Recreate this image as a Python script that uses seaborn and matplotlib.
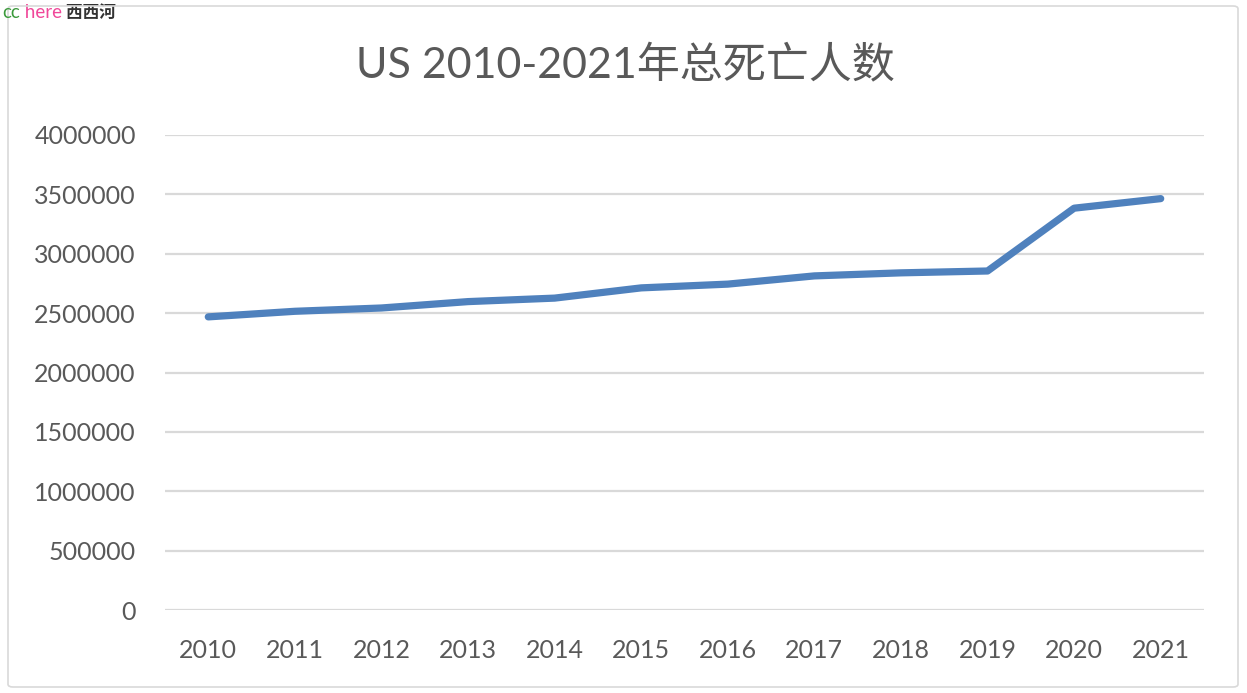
import matplotlib
matplotlib.use("Agg")
import matplotlib.pyplot as plt
import seaborn as sns
import pandas as pd
from matplotlib.patches import FancyBboxPatch

years = [2010, 2011, 2012, 2013, 2014, 2015, 2016, 2017, 2018, 2019, 2020, 2021]
deaths = [2468435, 2515458, 2543279, 2596993, 2626418, 2712630,
          2744248, 2813503, 2839205, 2854838, 3383729, 3464231]
yticks = [0, 500000, 1000000, 1500000, 2000000, 2500000, 3000000, 3500000, 4000000]
title = "US 2010-2021年总死亡人数"

sns.set_theme(style="white")
fam = ["Lato", "Noto Sans CJK SC", "DejaVu Sans"]
plt.rcParams["font.family"] = fam

df = pd.DataFrame({"year": years, "deaths": deaths})

fig = plt.figure(figsize=(12.47, 6.93), dpi=100)
ax = fig.add_axes([165/1247, 1-610/693, (1204-165)/1247, (610-135)/693])

# chart border
border = FancyBboxPatch((8/1247, 6/693), (1238-8)/1247, (687-6)/693,
                        boxstyle="round,pad=0,rounding_size=0.004",
                        transform=fig.transFigure, facecolor="none",
                        edgecolor="#d9d9d9", linewidth=1.2, zorder=0)
fig.patches.append(border)

for yt in yticks:
    ax.axhline(yt, color="#d9d9d9", linewidth=1.6, zorder=1)

sns.lineplot(data=df, x="year", y="deaths", ax=ax, color="#4f81bd",
             linewidth=5.2, zorder=3, solid_capstyle="round", solid_joinstyle="round")

ax.set_xlim(2009.5, 2021.5)
ax.set_ylim(0, 4000000)
ax.set_xticks(years)
ax.set_xticklabels([str(y) for y in years])
ax.set_yticks(yticks)
ax.set_yticklabels([str(v) for v in yticks])
ax.tick_params(axis="both", length=0, labelsize=18, labelcolor="#595959")
ax.tick_params(axis="y", pad=21)
ax.tick_params(axis="x", pad=21)
ax.set_xlabel("")
ax.set_ylabel("")
for s in ax.spines.values():
    s.set_visible(False)

fig.text(625/1247, 1-65/693, title, ha="center", va="center",
         fontsize=31, color="#595959", family=fam)

# watermark
t1 = fig.text(2/1247, 1-18/693, "cc", fontsize=13.5, color="#3c9a3c",
              ha="left", va="baseline", family=fam)
t2 = ax.annotate(" here", xy=(1, 0), xycoords=t1, fontsize=13.5, color="#f0489a",
                 ha="left", va="bottom", family=fam, annotation_clip=False)
t3 = ax.annotate(" 西西河", xy=(1, 0), xycoords=t2, fontsize=12, color="#333333",
                 ha="left", va="bottom", family=fam, fontweight="bold",
                 annotation_clip=False)

fig.savefig("out.png", dpi=100)
